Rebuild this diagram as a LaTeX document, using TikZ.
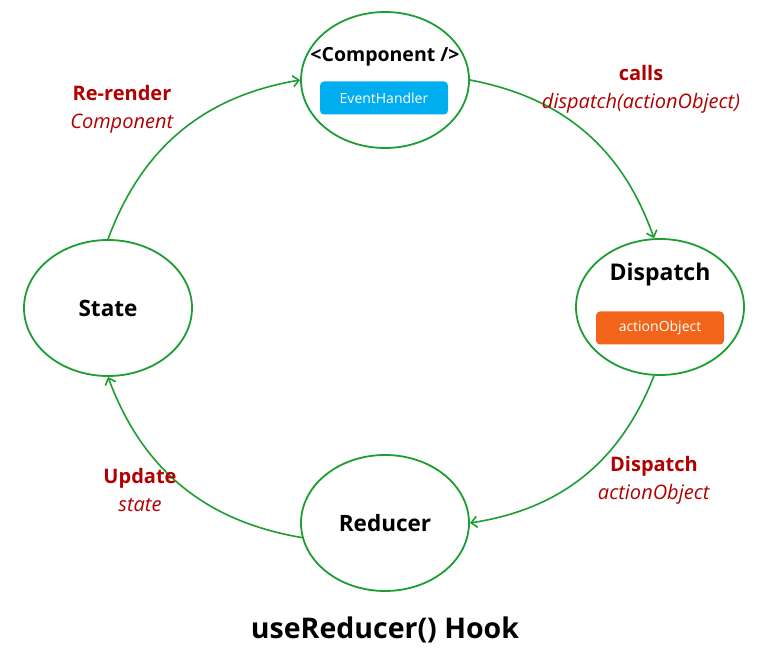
\documentclass[tikz,border=0pt]{standalone}
\usepackage{fontspec}
\setmainfont{Open Sans}
\usetikzlibrary{arrows.meta,shapes.geometric}
\definecolor{flowgreen}{HTML}{1E9E32}
\definecolor{labelred}{HTML}{B00000}
\definecolor{handlerblue}{HTML}{00AEEF}
\definecolor{actionorange}{HTML}{F26419}
\tikzset{
	stage/.style={ellipse, draw=flowgreen, line width=1.8pt, minimum width=168pt, minimum height=136pt, inner sep=0pt, font=\bfseries\fontsize{22.5}{26}\selectfont},
	tag/.style={rounded corners=4pt, minimum width=128pt, minimum height=33pt, inner sep=0pt, text=white, font=\fontsize{14}{16}\selectfont},
	flow/.style={-{Straight Barb[length=6pt,width=11pt]}, draw=flowgreen, line width=1.6pt, bend left=30},
	note/.style={text=labelred, align=center, font=\fontsize{20}{28}\selectfont},
}
\begin{document}
\begin{tikzpicture}[x=1pt, y=1pt]
				\useasboundingbox[fill=white] (0,0) rectangle (768,664);
				% stages
				\node[stage] (comp) at(385, 584){};
				\node[stage] (disp) at(660, 357){};
				\node[stage] (state) at(108, 356){State};
				\node[stage] (red) at(385, 141){Reducer};
				% contents
				\node[font=\bfseries\fontsize{19.5}{22}\selectfont] (comptext) at(385, 607){<Component />};
				\node[tag, fill=handlerblue] (handler) at(384, 566){EventHandler};
				\node[font=\bfseries\fontsize{23}{26}\selectfont] (disptext) at(660, 389){Dispatch};
				\node[tag, fill=actionorange] (action) at(660, 336){actionObject};
				% flows
				\draw[flow] (state.north) to (comp.west);
				\draw[flow] (comp.east) to (disp.95);
				\draw[flow] (disp.265) to (red.east);
				\draw[flow] (red.190) to (state.south);
				% notes
				\node[note] (rerender) at(122, 555){\textbf{Re-render}\\\textit{Component}};
				\node[note] (calls) at(641, 575){\textbf{calls}\\\textit{dispatch(actionObject)}};
				\node[note] (dispatch) at(654, 184){\textbf{Dispatch}\\\textit{actionObject}};
				\node[note] (update) at(140, 174){\textbf{Update}\\\textit{state}};
				% title
				\node[font=\bfseries\fontsize{28.5}{32}\selectfont] (title) at(385, 34){useReducer() Hook};
			\end{tikzpicture}
\end{document}
